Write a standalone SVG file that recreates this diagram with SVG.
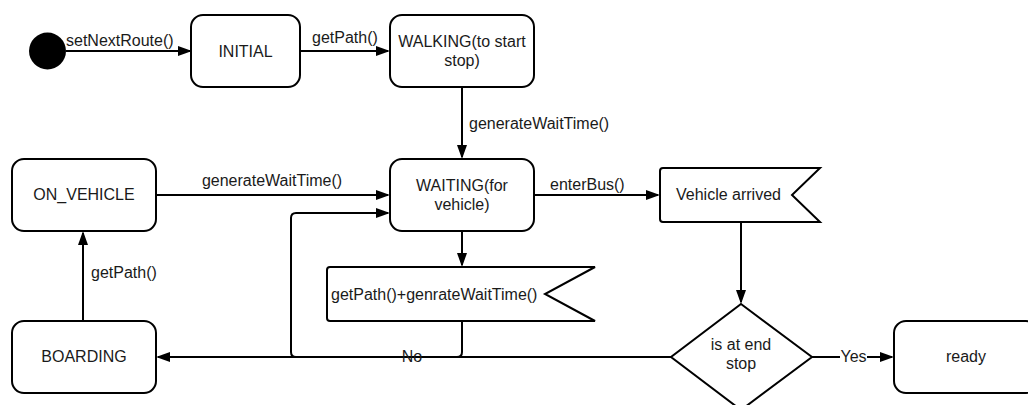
<svg xmlns="http://www.w3.org/2000/svg" width="1028" height="405" viewBox="0 0 1028 405">
  <style>
    .state { fill: #ffffff; stroke: #000000; stroke-width: 2; }
    .edge { fill: none; stroke: #000000; stroke-width: 2; }
    .label { font-family: "Liberation Sans", Arial, sans-serif; font-size: 16px; fill: #1a1a1a; }
    .mid { text-anchor: middle; }
  </style>
  <defs>
    <marker id="arrow" markerUnits="userSpaceOnUse" markerWidth="14" markerHeight="10" refX="12" refY="5" orient="auto">
      <path d="M0,0 L14,5 L0,10 Z" fill="#000000"/>
    </marker>
  </defs>
  <rect width="1028" height="405" fill="#ffffff"/>

  <!-- transitions -->
  <g id="connectors">
    <path class="edge" d="M66,51 H190" marker-end="url(#arrow)"/>
    <text class="label" x="66" y="46">setNextRoute()</text>

    <path class="edge" d="M300,51 H388" marker-end="url(#arrow)"/>
    <text class="label" x="312" y="43">getPath()</text>

    <path class="edge" d="M462,87 V157" marker-end="url(#arrow)"/>
    <text class="label" x="469" y="129">generateWaitTime()</text>

    <path class="edge" d="M156,195 H388" marker-end="url(#arrow)"/>
    <text class="label mid" x="272" y="186">generateWaitTime()</text>

    <path class="edge" d="M462,231 V265" marker-end="url(#arrow)"/>

    <path class="edge" d="M534,195 H658" marker-end="url(#arrow)"/>
    <text class="label" x="550" y="190">enterBus()</text>

    <path class="edge" d="M741,222 V302" marker-end="url(#arrow)"/>

    <path class="edge" d="M462,321 V352 Q462,357 457,357 H296 Q291,357 291,352 V218 Q291,213 296,213 H388" marker-end="url(#arrow)"/>

    <path class="edge" d="M671,357 H158" marker-end="url(#arrow)"/>
    <text class="label mid" x="412" y="362">No</text>

    <path class="edge" d="M812,357 H892" marker-end="url(#arrow)"/>
    <rect x="840" y="346" width="27" height="18" fill="#ffffff"/>
    <text class="label mid" x="853.5" y="362">Yes</text>

    <path class="edge" d="M83,321 V233" marker-end="url(#arrow)"/>
    <text class="label" x="91" y="278">getPath()</text>
  </g>

  <g id="start">
    <circle cx="47.5" cy="51" r="18.5" fill="#000000"/>
  </g>

  <g id="initial">
    <rect class="state" x="191" y="15" width="109" height="72" rx="12"/>
    <text class="label mid" x="245.5" y="56.5">INITIAL</text>
  </g>

  <g id="walking">
    <rect class="state" x="390" y="15" width="144" height="72" rx="12"/>
    <text class="label mid" x="462" y="47">WALKING(to start</text>
    <text class="label mid" x="462" y="66">stop)</text>
  </g>

  <g id="on-vehicle">
    <rect class="state" x="12" y="159" width="144" height="72" rx="12"/>
    <text class="label mid" x="84" y="200">ON_VEHICLE</text>
  </g>

  <g id="waiting">
    <rect class="state" x="390" y="159" width="144" height="72" rx="12"/>
    <text class="label mid" x="462" y="190.5">WAITING(for</text>
    <text class="label mid" x="462" y="209.5">vehicle)</text>
  </g>

  <g id="vehicle-arrived">
    <path class="state" d="M663,168 H820 L792,195 L820,222 H663 Q660,222 660,219 V171 Q660,168 663,168 Z"/>
    <text class="label" x="676" y="200">Vehicle arrived</text>
  </g>

  <g id="get-path-wait">
    <path class="state" d="M330,267 H595 L545,294 L595,321 H330 Q327,321 327,318 V270 Q327,267 330,267 Z"/>
    <text class="label" x="331" y="299.5">getPath()+genrateWaitTime()</text>
  </g>

  <g id="boarding">
    <rect class="state" x="12" y="321" width="144" height="72" rx="12"/>
    <text class="label mid" x="84" y="362">BOARDING</text>
  </g>

  <g id="end-stop-check">
    <path class="state" d="M741,304 L812,357 L741,410 L671,357 Z"/>
    <text class="label mid" x="741" y="350">is at end</text>
    <text class="label mid" x="741" y="369">stop</text>
  </g>

  <g id="ready">
    <rect class="state" x="894" y="321" width="144" height="72" rx="12"/>
    <text class="label mid" x="966" y="362">ready</text>
  </g>
</svg>
